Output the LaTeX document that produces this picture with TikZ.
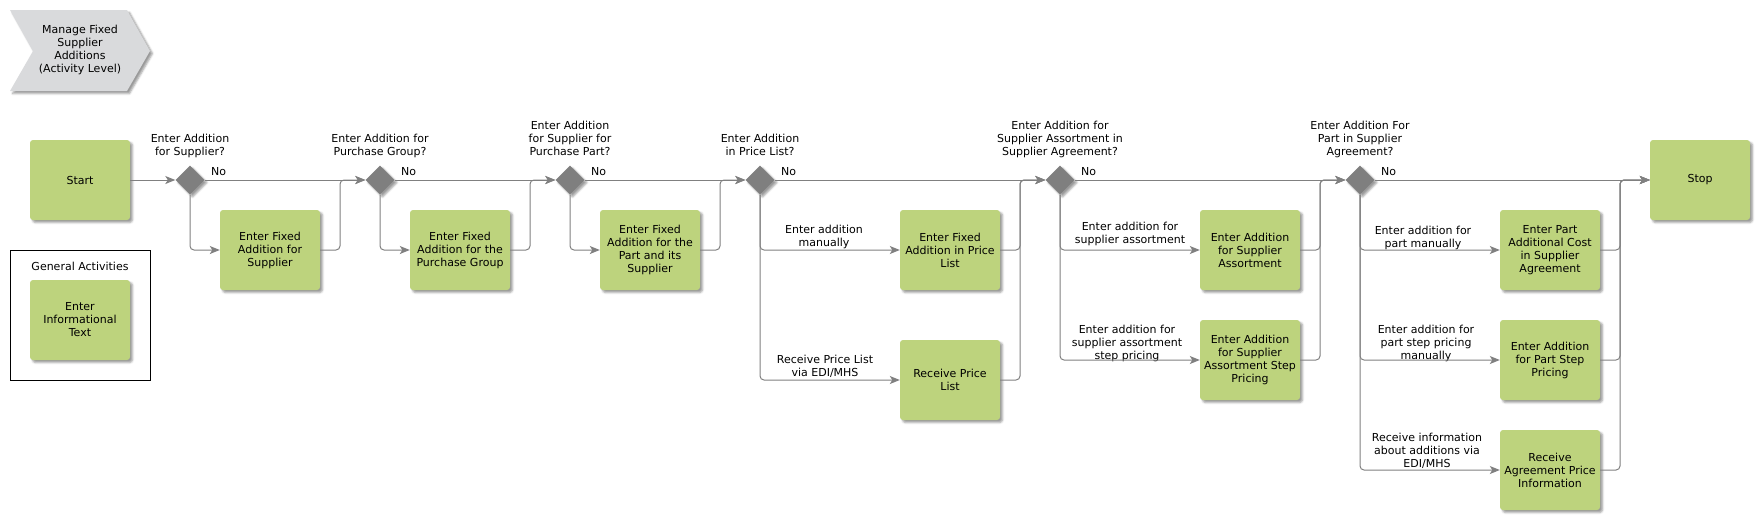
\documentclass[tikz,border=0pt]{standalone}
\usepackage{fontspec}
\setmainfont{DejaVu Sans}
\usetikzlibrary{shapes.geometric,arrows.meta,shadows.blur}
\definecolor{boxgreen}{HTML}{BDD37D}
\definecolor{dgray}{HTML}{7F7F7F}
\definecolor{lgray}{HTML}{808080}
\definecolor{chev}{HTML}{D9DADC}
\begin{document}
\begin{tikzpicture}[x=1pt,y=-1pt,
  shad/.style={blur shadow={shadow xshift=2.5pt,shadow yshift=-2.5pt,shadow blur radius=2pt,shadow opacity=40}},
  act/.style={rectangle,rounded corners=3pt,fill=boxgreen,minimum width=100pt,minimum height=80pt,
    align=center,inner sep=0pt,font=\fontsize{11}{13}\selectfont,shad},
  dec/.style={diamond,fill=dgray,minimum width=29pt,minimum height=29pt,inner sep=0pt,shad},
  lbl/.style={font=\fontsize{11}{13}\selectfont,align=center,inner sep=0pt},
  qlbl/.style={lbl,anchor=south,text depth=2.5pt},
  nolbl/.style={lbl,anchor=base west},
  conn/.style={draw=lgray,line width=1pt,rounded corners=4pt,-{Stealth[length=10pt,width=8pt,inset=2.5pt]}}]
\useasboundingbox (0,0) rectangle (1760,520);

% title chevron
\fill[chev,shad] (10,10) -- (127,10) -- (150,51) -- (127,91) -- (10,91) -- (33,51) -- cycle;
\node[lbl] (title) at (80,50) {Manage Fixed\\Supplier\\Additions\\(Activity Level)};

% general activities
\node[draw=black,line width=1pt,minimum width=140pt,minimum height=130pt,inner sep=0pt] (ga) at (80,315) {};
\node[lbl] (gat) at (80,266) {General Activities};
\node[act] (info) at (80,320) {Enter\\Informational\\Text};

% main nodes
\node[act] (start) at (80,180) {Start};
\node[dec] (d1) at (190,180) {};
\node[act] (b1) at (270,250) {Enter Fixed\\Addition for\\Supplier};
\node[dec] (d2) at (380,180) {};
\node[act] (b2) at (460,250) {Enter Fixed\\Addition for the\\Purchase Group};
\node[dec] (d3) at (570,180) {};
\node[act] (b3) at (650,250) {Enter Fixed\\Addition for the\\Part and its\\Supplier};
\node[dec] (d4) at (760,180) {};
\node[act] (b4a) at (950,250) {Enter Fixed\\Addition in Price\\List};
\node[act] (b4b) at (950,380) {Receive Price\\List};
\node[dec] (d5) at (1060,180) {};
\node[act] (b5a) at (1250,250) {Enter Addition\\for Supplier\\Assortment};
\node[act] (b5b) at (1250,360) {Enter Addition\\for Supplier\\Assortment Step\\Pricing};
\node[dec] (d6) at (1360,180) {};
\node[act] (b6a) at (1550,250) {Enter Part\\Additional Cost\\in Supplier\\Agreement};
\node[act] (b6b) at (1550,360) {Enter Addition\\for Part Step\\Pricing};
\node[act] (b6c) at (1550,470) {Receive\\Agreement Price\\Information};
\node[act] (stop) at (1700,180) {Stop};

% decision labels
\node[qlbl] (q1) at (190,158.5) {Enter Addition\\for Supplier?};
\node[qlbl] (q2) at (380,158.5) {Enter Addition for\\Purchase Group?};
\node[qlbl] (q3) at (570,158.5) {Enter Addition\\for Supplier for\\Purchase Part?};
\node[qlbl] (q4) at (760,158.5) {Enter Addition\\in Price List?};
\node[qlbl] (q5) at (1060,158.5) {Enter Addition for\\Supplier Assortment in\\Supplier Agreement?};
\node[qlbl] (q6) at (1360,158.5) {Enter Addition For\\Part in Supplier\\Agreement?};

\node[nolbl] (n1) at (211,175.5) {No};
\node[nolbl] (n2) at (401,175.5) {No};
\node[nolbl] (n3) at (591,175.5) {No};
\node[nolbl] (n4) at (781,175.5) {No};
\node[nolbl] (n5) at (1081,175.5) {No};
\node[nolbl] (n6) at (1381,175.5) {No};

% branch labels
\node[qlbl] (l4a) at (824,249.2) {Enter addition\\manually};
\node[qlbl] (l4b) at (825,379.2) {Receive Price List\\via EDI/MHS};
\node[qlbl] (l5a) at (1130,245.8) {Enter addition for\\supplier assortment};
\node[qlbl] (l5b) at (1127,362.5) {Enter addition for\\supplier assortment\\step pricing};
\node[qlbl] (l6a) at (1423,250.2) {Enter addition for\\part manually};
\node[qlbl] (l6b) at (1426,362.5) {Enter addition for\\part step pricing\\manually};
\node[qlbl] (l6c) at (1427,470.2) {Receive information\\about additions via\\EDI/MHS};

% connectors
\draw[conn] (start.east) -- (d1.west);
\draw[conn] (d1.east) -- (d2.west);
\draw[conn] (d1.south) |- (b1.west);
\draw[conn] (b1.east) -- (340,250) -- (340,180) -- (d2.west);

\draw[conn] (d2.east) -- (d3.west);
\draw[conn] (d2.south) |- (b2.west);
\draw[conn] (b2.east) -- (530,250) -- (530,180) -- (d3.west);

\draw[conn] (d3.east) -- (d4.west);
\draw[conn] (d3.south) |- (b3.west);
\draw[conn] (b3.east) -- (720,250) -- (720,180) -- (d4.west);

\draw[conn] (d4.east) -- (d5.west);
\draw[conn] (d4.south) |- (b4a.west);
\draw[conn] (d4.south) |- (b4b.west);
\draw[conn] (b4a.east) -- (1020,250) -- (1020,180) -- (d5.west);
\draw[conn] (b4b.east) -- (1020,380) -- (1020,180) -- (d5.west);

\draw[conn] (d5.east) -- (d6.west);
\draw[conn] (d5.south) |- (b5a.west);
\draw[conn] (d5.south) |- (b5b.west);
\draw[conn] (b5a.east) -- (1320,250) -- (1320,180) -- (d6.west);
\draw[conn] (b5b.east) -- (1320,360) -- (1320,180) -- (d6.west);

\draw[conn] (d6.east) -- (stop.west);
\draw[conn] (d6.south) |- (b6a.west);
\draw[conn] (d6.south) |- (b6b.west);
\draw[conn] (d6.south) |- (b6c.west);
\draw[conn] (b6a.east) -- (1620,250) -- (1620,180) -- (stop.west);
\draw[conn] (b6b.east) -- (1620,360) -- (1620,180) -- (stop.west);
\draw[conn] (b6c.east) -- (1620,470) -- (1620,180) -- (stop.west);
\end{tikzpicture}
\end{document}
